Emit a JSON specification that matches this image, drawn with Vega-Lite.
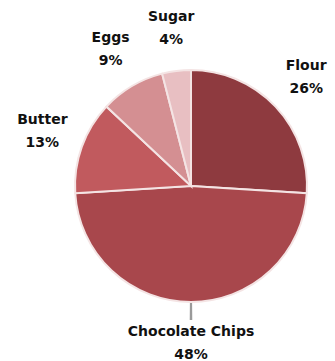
{
  "$schema": "https://vega.github.io/schema/vega-lite/v6.json",
  "width": 288,
  "height": 350,
  "autosize": "none",
  "padding": {"left": 47, "top": 11, "right": 0, "bottom": 0},
  "background": "white",
  "config": {"view": {"stroke": null}},
  "data": {"values": [
    {"ingredient": "Flour", "share": 0.26, "order": 1},
    {"ingredient": "Chocolate Chips", "share": 0.48, "order": 2},
    {"ingredient": "Butter", "share": 0.13, "order": 3},
    {"ingredient": "Eggs", "share": 0.09, "order": 4},
    {"ingredient": "Sugar", "share": 0.04, "order": 5}
  ]},
  "encoding": {
    "theta": {"field": "share", "type": "quantitative", "stack": true, "scale": {"domain": [0, 1]}},
    "order": {"field": "order", "type": "quantitative"}
  },
  "layer": [
    {
      "mark": {"type": "arc", "outerRadius": 116, "stroke": "#f4e4e4", "strokeWidth": 2},
      "encoding": {
        "color": {
          "field": "ingredient",
          "type": "nominal",
          "legend": null,
          "scale": {
            "domain": ["Flour", "Chocolate Chips", "Butter", "Eggs", "Sugar"],
            "range": ["#8e3a3f", "#a8474c", "#c15a5e", "#d48f92", "#e8bfc2"]
          }
        }
      }
    },
    {
      "transform": [{"filter": "datum.ingredient === 'Chocolate Chips'"}],
      "mark": {"type": "arc", "innerRadius": 117, "outerRadius": 134, "fill": "#9a9a9a", "padAngle": 0.0},
      "encoding": {
        "theta": {"datum": 0.4985, "type": "quantitative"},
        "theta2": {"datum": 0.5015},
        "order": null
      }
    },
    {
      "mark": {"type": "text", "radius": 158, "dy": -12, "fontSize": 14, "fontWeight": "bold", "font": "DejaVu Sans", "fill": "#111111"},
      "encoding": {"text": {"field": "ingredient", "type": "nominal"}}
    },
    {
      "mark": {"type": "text", "radius": 158, "dy": 11, "fontSize": 14, "fontWeight": "bold", "font": "DejaVu Sans", "fill": "#111111"},
      "encoding": {"text": {"field": "share", "type": "quantitative", "format": ".0%"}}
    }
  ]
}
